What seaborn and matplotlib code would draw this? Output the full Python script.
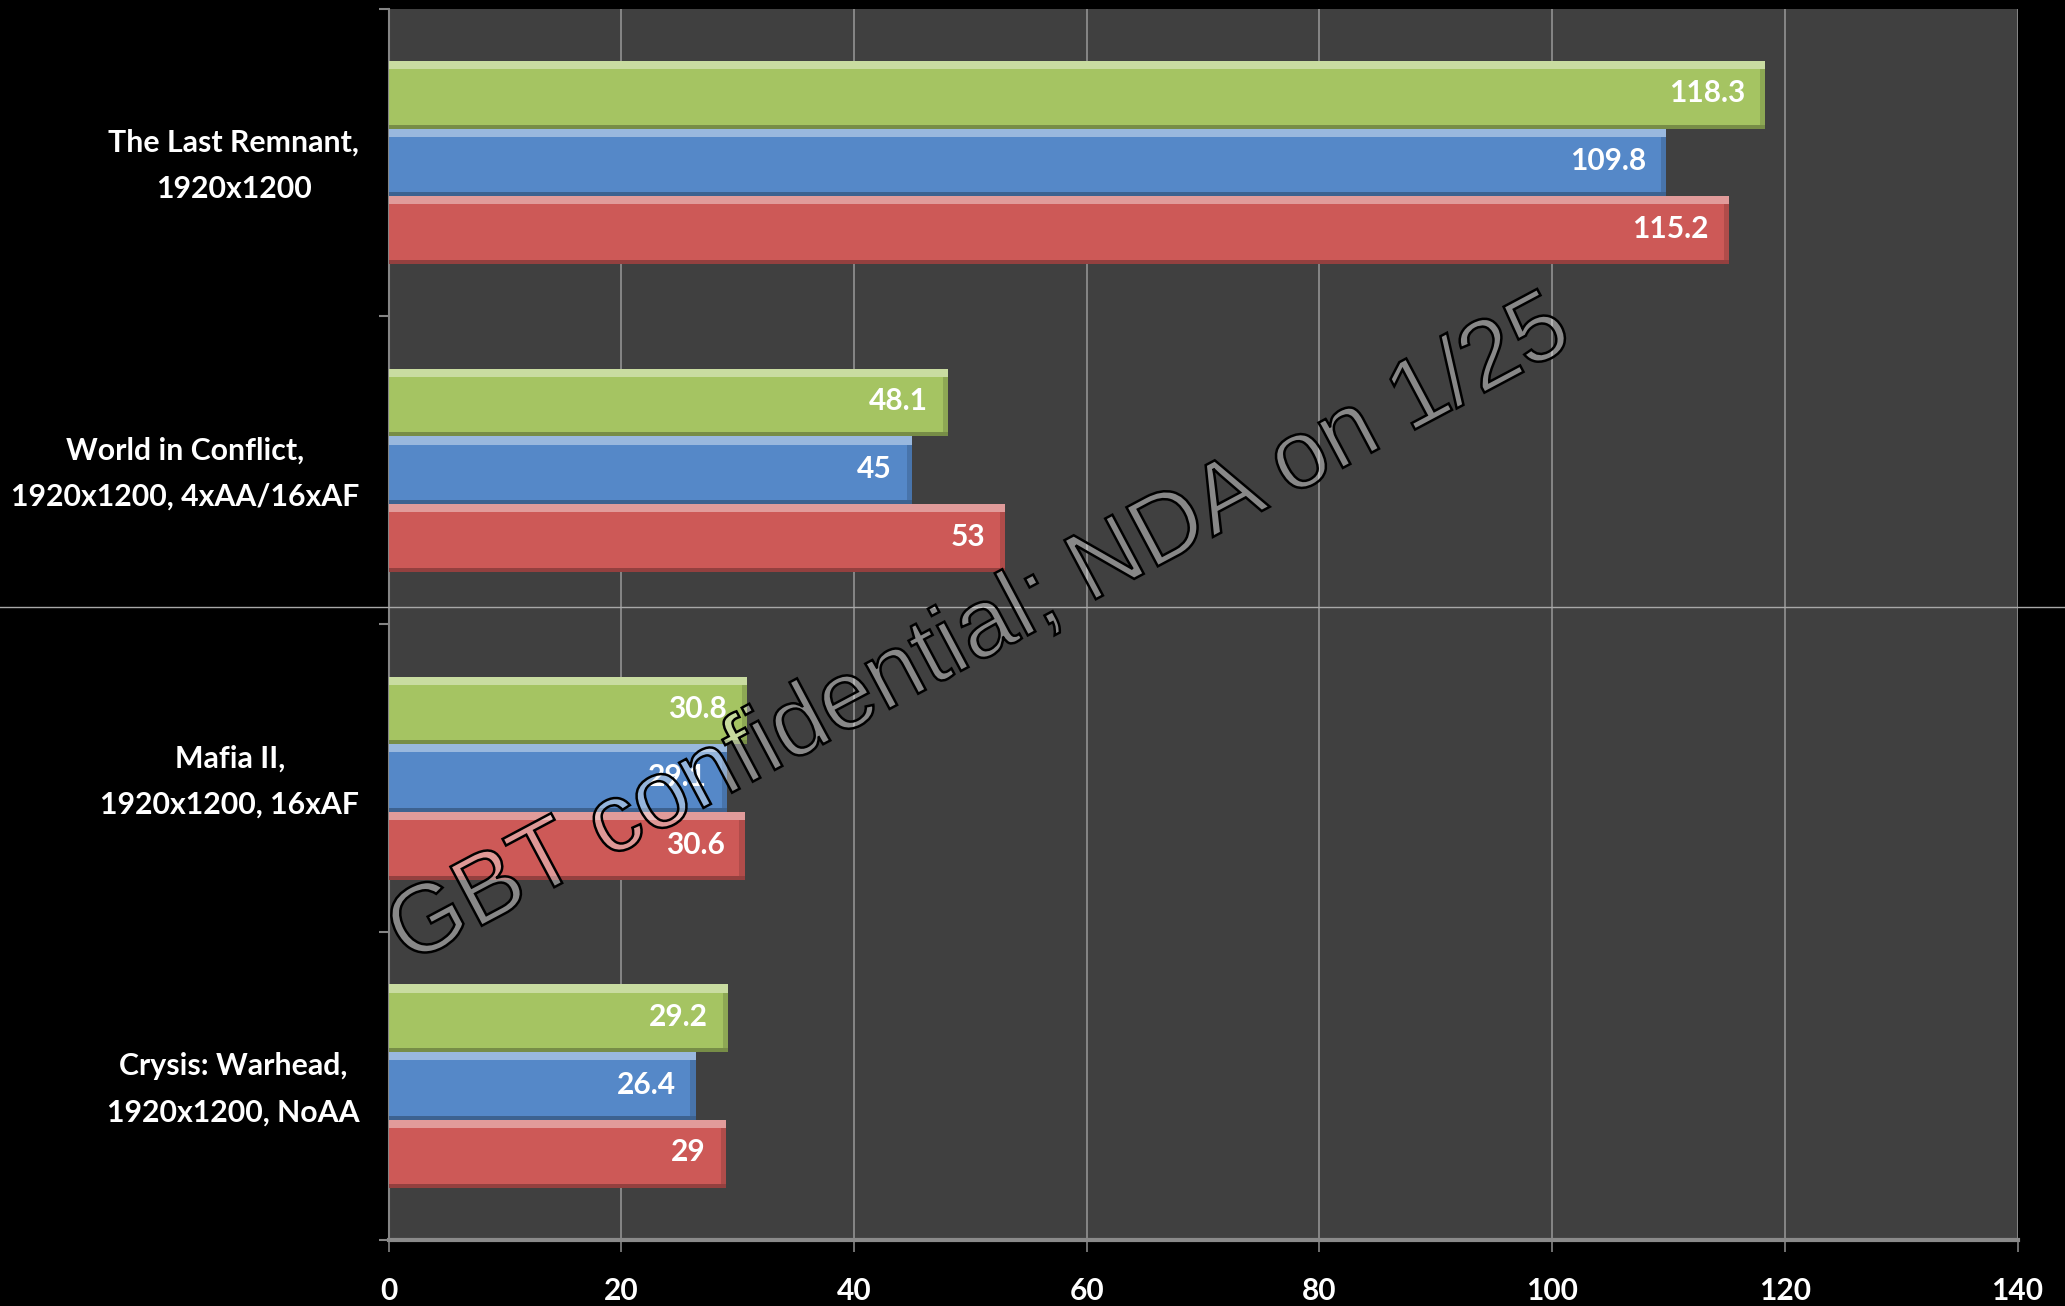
import numpy as np
import pandas as pd
import matplotlib
matplotlib.use("Agg")
import matplotlib.pyplot as plt
import matplotlib.patheffects as pe
import matplotlib.transforms as mtransforms
from matplotlib.patches import Rectangle
from matplotlib.lines import Line2D
from matplotlib.colors import to_rgb
import seaborn as sns

# ---- data ----
games = ["The Last Remnant,\n1920x1200",
         "World in Conflict,\n1920x1200, 4xAA/16xAF",
         "Mafia II,\n1920x1200, 16xAF",
         "Crysis: Warhead,\n1920x1200, NoAA"]
series = ["Series 1", "Series 2", "Series 3"]
series1_vals = [118.3, 48.1, 30.8, 29.2]   # green
series2_vals = [109.8, 45, 29.1, 26.4]     # blue
series3_vals = [115.2, 53, 30.6, 29]       # red
x_ticks = [0, 20, 40, 60, 80, 100, 120, 140]
watermark = "GBT confidential; NDA on 1/25"

colors = ["#A5C462", "#5588C8", "#CD5957"]

df = pd.DataFrame({
    "game": games * 3,
    "fps": series1_vals + series2_vals + series3_vals,
    "card": [series[0]] * 4 + [series[1]] * 4 + [series[2]] * 4,
})

W, H = 2065, 1306
fig = plt.figure(figsize=(W / 100, H / 100), dpi=100, facecolor="black")
ax = fig.add_axes([388.5 / W, 1 - 1240 / H, (2017.5 - 388.5) / W, (1240 - 8.5) / H])
ax.set_facecolor("#404040")

sns.barplot(data=df, y="game", x="fps", hue="card", orient="h",
            palette=colors, hue_order=series, order=games,
            width=0.66, gap=0, saturation=1, errorbar=None,
            legend=False, ax=ax, zorder=3, linewidth=0)

# bevel look derived from each drawn bar
for p in list(ax.patches):
    x0, y0 = p.get_x(), p.get_y()
    w, h = p.get_width(), p.get_height()
    fc = np.array(to_rgb(p.get_facecolor()))
    light = fc + (1 - fc) * 0.4
    dark = fc * 0.72
    ax.add_patch(Rectangle((x0, y0), w, h * 0.12, facecolor=light,
                           edgecolor="none", zorder=4))
    ax.add_patch(Rectangle((x0, y0 + h * 0.94), w, h * 0.06, facecolor=dark,
                           edgecolor="none", zorder=4))
    ax.add_patch(Rectangle((x0 + w - 0.45, y0 + h * 0.12), 0.45, h * 0.82,
                           facecolor=dark, edgecolor="none", zorder=4, alpha=0.5))

# value labels
for cont in ax.containers:
    for bar in cont:
        v = bar.get_width()
        ax.annotate(f"{v:g}", (bar.get_x() + v, bar.get_y() + bar.get_height() / 2),
                    xytext=(-14.5, 1), textcoords="offset points",
                    ha="right", va="center", color="white", fontsize=21.5,
                    fontweight="bold", family="Lato", zorder=6)

ax.set_xlim(0, 140)
ax.set_ylim(3.5, -0.5)
ax.set_xticks(x_ticks)
ax.set_xticklabels([str(t) for t in x_ticks])
ax.set_xlabel("")
ax.set_ylabel("")

ax.xaxis.grid(True, color="#8C8C8C", linewidth=1.3, zorder=0)
ax.yaxis.grid(False)
ax.set_axisbelow(True)

for s in ["top", "right"]:
    ax.spines[s].set_visible(False)
ax.spines["left"].set_color("#858585")
ax.spines["left"].set_linewidth(1.5)
ax.spines["bottom"].set_color("#8A8A8A")
ax.spines["bottom"].set_linewidth(3)

ax.tick_params(axis="x", direction="out", length=8.5, width=1.2, color="#858585",
               pad=18, labelcolor="white", labelsize=21.5)
ax.set_yticks(np.arange(-0.5, 4, 1), minor=True)
ax.tick_params(axis="y", which="minor", direction="out", length=7, width=1.5,
               color="#858585")
ax.tick_params(axis="y", which="major", length=0, pad=21, labelcolor="white",
               labelsize=21.8)
for t in ax.get_xticklabels():
    t.set_fontweight("bold")
    t.set_family("Lato")
shift = mtransforms.ScaledTranslation(0, 6 / 72, fig.dpi_scale_trans)
for t in ax.get_yticklabels():
    t.set_fontweight("bold")
    t.set_family("Lato")
    t.set_multialignment("center")
    t.set_linespacing(1.78)
    t.set_transform(t.get_transform() + shift)

# thin horizontal line crossing the whole picture
fig.add_artist(Line2D([0, 1], [1 - 607 / H, 1 - 607 / H], transform=fig.transFigure,
                      color="#A8A8A8", linewidth=1.0, zorder=10))

# watermark
fig.text(408 / W, 1 - 965 / H, watermark, rotation=28, rotation_mode="anchor",
         ha="left", va="baseline", fontsize=70, family="Liberation Sans",
         zorder=20,
         path_effects=[pe.PathPatchEffect(facecolor=(1, 1, 1, 0.38),
                                          edgecolor="black", linewidth=1.8)])

fig.savefig("out.png", dpi=100, facecolor="black")
